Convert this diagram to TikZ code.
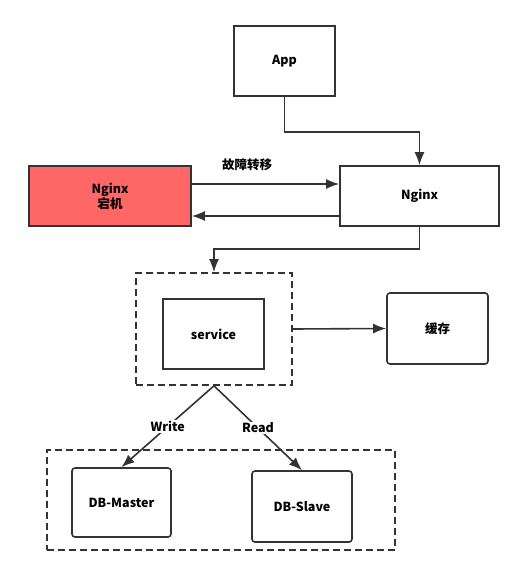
\documentclass[tikz,border=0pt]{standalone}
\usepackage{fontspec}
\setmainfont{Noto Sans CJK SC}
\usetikzlibrary{arrows.meta}
\definecolor{darkline}{HTML}{333333}
\definecolor{downred}{HTML}{FF6666}
\tikzset{>={Latex[length=13pt, width=10pt]}}
\tikzset{box/.style={draw=darkline, line width=1.6pt, font=\bfseries\fontsize{12.5}{15}\selectfont, align=center, inner sep=0pt}}
\tikzset{roundbox/.style={box, rounded corners=3pt}}
\tikzset{group/.style={draw=darkline, line width=1.6pt, dash pattern=on 7pt off 4pt, inner sep=0pt}}
\tikzset{link/.style={->, draw=darkline, line width=1.6pt}}
\tikzset{tag/.style={fill=white, inner sep=1pt, font=\bfseries\fontsize{12.5}{15}\selectfont}}

\begin{document}
\begin{tikzpicture}[x=1pt, y=-1pt]

\useasboundingbox (0,0) rectangle (522,568);

% top row
\node[box, minimum width=101pt, minimum height=70pt] (app) at (284.5,61) {App};
\node[box, minimum width=159pt, minimum height=60pt] (nginx) at (419.5,196) {Nginx};
\node[box, fill=downred, minimum width=162pt, minimum height=60pt] (nginxDown) at (110,196) {Nginx\\宕机};
\node[tag] (failover) at (247,165) {故障转移};

% service layer
\node[group, minimum width=156pt, minimum height=112pt] (svcGroup) at (214,329) {};
\node[box, minimum width=101pt, minimum height=70pt] (service) at (213.5,334) {service};
\node[roundbox, minimum width=101pt, minimum height=71pt] (cache) at (437.5,328.5) {缓存};

% database layer
\node[group, minimum width=348pt, minimum height=100pt] (dbGroup) at (221,500) {};
\node[roundbox, minimum width=99pt, minimum height=69pt] (master) at (121.5,502.5) {DB-Master};
\node[roundbox, minimum width=100pt, minimum height=71pt] (slave) at (302,506.5) {DB-Slave};

\draw[link] (app.south) -- ++(0,35) -| (nginx.north);
\draw[link] ([yshift=12pt]nginxDown.east) -- ([yshift=12pt]nginx.west);
\draw[link] ([yshift=-20pt]nginx.west) -- ([yshift=-20pt]nginxDown.east);
\draw[link] (nginx.south) -- ++(0,22) -| (svcGroup.north);
\draw[link] (svcGroup.east) -- (cache.west);
\draw[link] (svcGroup.south) -- (master.north) node[midway, tag] {Write};
\draw[link] (svcGroup.south) -- (slave.north) node[midway, tag] {Read};

\end{tikzpicture}
\end{document}
